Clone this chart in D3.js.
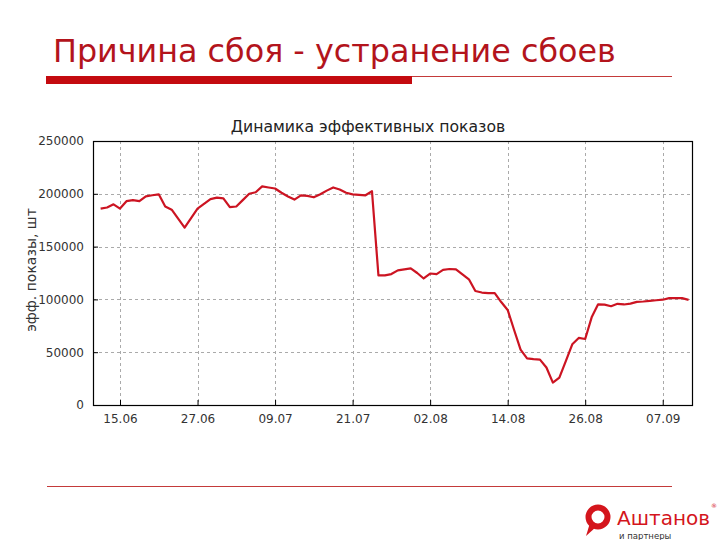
<!DOCTYPE html>
<html>
<head>
<meta charset="utf-8">
<script src="https://cdn.jsdelivr.net/npm/d3@7"></script>
<style>
  html, body { margin: 0; padding: 0; background: #fff; }
  svg { display: block; }
</style>
</head>
<body>
<svg id="chart" width="720" height="540"></svg>
<script>
// ---- data ----
const slideTitle = "Причина сбоя - устранение сбоев";
const chartTitle = "Динамика эффективных показов";
const yAxisTitle = "эфф. показы, шт";
const startDate = "2009-06-12";
const endDate = "2009-09-11";
const values = [
  186000, 187000, 190000, 186000, 193000, 194000, 193000, 197600, 198600, 199500,
  188000, 185000, 176500, 168000, 177000, 186000, 190500, 195000, 196400, 195700,
  187300, 188000, 194000, 200000, 201500, 207000, 206000, 205000, 201000, 197500,
  194500, 198500, 198000, 196700, 199500, 203000, 206000, 204000, 201000, 199500,
  199000, 198600, 202400, 122700, 122700, 124000, 127500, 128500, 129300, 125000,
  119800, 124500, 124000, 128000, 128800, 128500, 123700, 119000, 108000, 106500,
  106000, 106000, 97500, 90000, 71000, 52500, 44200, 43400, 43000, 35500,
  21200, 26000, 41500, 57500, 63500, 62500, 83000, 95300, 95000, 93500,
  95800, 95200, 96000, 97600, 98000, 98600, 99200, 99700, 101200, 101300,
  101200, 99600
];
const yTicks = [0, 50000, 100000, 150000, 200000, 250000];
const xTickDates = ["2009-06-15", "2009-06-27", "2009-07-09", "2009-07-21",
                    "2009-08-02", "2009-08-14", "2009-08-26", "2009-09-07"];

// ---- drawing ----
const parse = d3.timeParse("%Y-%m-%d");
const dates = d3.timeDay.range(parse(startDate), d3.timeDay.offset(parse(endDate), 1));
const series = dates.map((d, i) => ({ date: d, value: values[i] }));

const svg = d3.select("#chart");
const plot = { left: 93, right: 693, top: 141, bottom: 405 };
const font = "DejaVu Sans, Verdana, sans-serif";

// slide header
svg.append("text")
  .attr("x", 53).attr("y", 62)
  .attr("font-family", font)
  .attr("font-size", 31.8)
  .attr("fill", "#b3141c")
  .text(slideTitle);
svg.append("line")
  .attr("x1", 412).attr("x2", 672).attr("y1", 76.5).attr("y2", 76.5)
  .attr("stroke", "#c43a3a").attr("stroke-width", 1);
svg.append("rect")
  .attr("x", 46).attr("y", 76).attr("width", 366).attr("height", 8)
  .attr("fill", "#c40a0f");
svg.append("line")
  .attr("x1", 47).attr("x2", 672).attr("y1", 486.5).attr("y2", 486.5)
  .attr("stroke", "#c43a3a").attr("stroke-width", 1);

// scales
const x = d3.scaleTime()
  .domain([new Date(2009, 5, 10, 19, 42), new Date(2009, 8, 11, 16, 28)])
  .range([plot.left, plot.right]);
const y = d3.scaleLinear()
  .domain([0, 250000])
  .range([plot.bottom, plot.top]);
const xTicks = xTickDates.map(parse);
const fmt = d3.timeFormat("%d.%m");

// grid
const grid = svg.append("g");
grid.selectAll(".gx").data(xTicks).join("line")
  .attr("x1", d => Math.round(x(d)) + 0.5).attr("x2", d => Math.round(x(d)) + 0.5)
  .attr("y1", plot.top).attr("y2", plot.bottom)
  .attr("stroke", "#aaaaaa").attr("stroke-dasharray", "3,3");
grid.selectAll(".gy").data(yTicks.filter(v => v > 0 && v < 250000)).join("line")
  .attr("x1", plot.left).attr("x2", plot.right)
  .attr("y1", d => Math.round(y(d)) + 0.5).attr("y2", d => Math.round(y(d)) + 0.5)
  .attr("stroke", "#aaaaaa").attr("stroke-dasharray", "3,3");

// axes (inward ticks)
const yAxis = svg.append("g")
  .attr("transform", `translate(${plot.left},0)`)
  .call(d3.axisLeft(y).tickValues(yTicks).tickSize(-5).tickPadding(9).tickFormat(d3.format("d")));
yAxis.select(".domain").remove();
yAxis.selectAll("text").attr("font-family", font).attr("font-size", 12).attr("fill", "#333");
yAxis.selectAll("line").attr("stroke", "#000");

const xAxis = svg.append("g")
  .attr("transform", `translate(0,${plot.bottom})`)
  .call(d3.axisBottom(x).tickValues(xTicks).tickSize(-5).tickPadding(9).tickFormat(fmt));
xAxis.select(".domain").remove();
xAxis.selectAll("text").attr("font-family", font).attr("font-size", 12).attr("fill", "#333");
xAxis.selectAll("line").attr("stroke", "#000");

// frame
svg.append("rect")
  .attr("x", plot.left + 0.5).attr("y", plot.top + 0.5)
  .attr("width", plot.right - plot.left - 1).attr("height", plot.bottom - plot.top)
  .attr("fill", "none").attr("stroke", "#000").attr("stroke-width", 1.2);

// line
svg.append("path")
  .datum(series)
  .attr("fill", "none")
  .attr("stroke", "#cc1422")
  .attr("stroke-width", 2.2)
  .attr("stroke-linejoin", "round")
  .attr("d", d3.line().x(d => x(d.date)).y(d => y(d.value)));

// chart title
svg.append("text")
  .attr("x", 368).attr("y", 132)
  .attr("text-anchor", "middle")
  .attr("font-family", font).attr("font-size", 15.7)
  .attr("fill", "#222")
  .text(chartTitle);

// y axis title
svg.append("text")
  .attr("transform", "translate(36,270) rotate(-90)")
  .attr("text-anchor", "middle")
  .attr("font-family", font).attr("font-size", 14)
  .attr("fill", "#333")
  .text(yAxisTitle);

// logo
const logo = svg.append("g");
logo.append("circle")
  .attr("cx", 598).attr("cy", 517).attr("r", 9.5)
  .attr("fill", "none").attr("stroke", "#d4151c").attr("stroke-width", 6);
logo.append("path")
  .attr("d", "M590,523 L586,536 L596,527 Z")
  .attr("fill", "#d4151c");
logo.append("text")
  .attr("x", 617).attr("y", 525)
  .attr("font-family", font).attr("font-size", 20)
  .attr("fill", "#d4151c")
  .text("Аштанов");
logo.append("text")
  .attr("x", 711).attr("y", 508)
  .attr("font-family", font).attr("font-size", 6)
  .attr("fill", "#d4151c")
  .text("®");
logo.append("text")
  .attr("x", 619).attr("y", 539)
  .attr("font-family", font).attr("font-size", 8.5)
  .attr("fill", "#333")
  .text("и партнеры");
</script>
</body>
</html>
